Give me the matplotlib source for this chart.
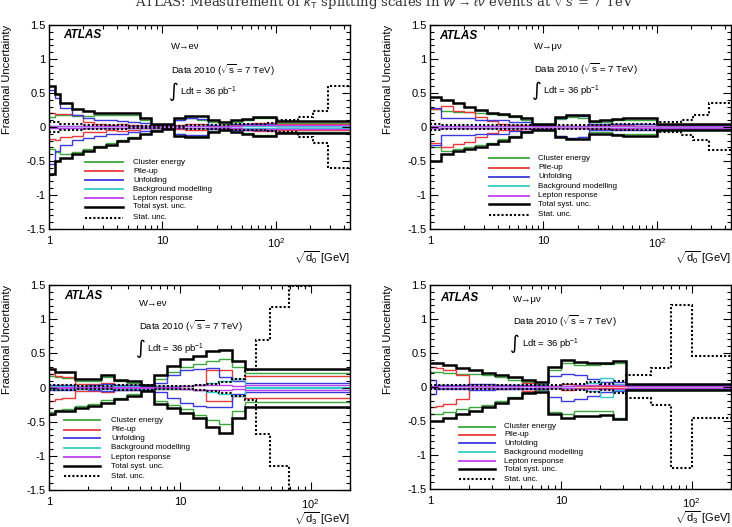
import numpy as np
import matplotlib
matplotlib.use("Agg")
import matplotlib.pyplot as plt
from matplotlib.ticker import FixedLocator, FixedFormatter, NullFormatter, LogLocator, MultipleLocator

plt.rcParams['font.family'] = ['Liberation Sans', 'DejaVu Sans']
plt.rcParams['mathtext.fontset'] = 'custom'
plt.rcParams['mathtext.rm'] = 'Liberation Sans'
plt.rcParams['mathtext.it'] = 'Liberation Sans:italic'
plt.rcParams['mathtext.bf'] = 'Liberation Sans:bold'

nan = np.nan

# ---------------- legend / components ----------------
comp_labels = ["Cluster energy", "Pile-up", "Unfolding", "Background modelling",
               "Lepton response", "Total syst. unc.", "Stat. unc."]
comp_colors = ["#3aa83a", "#e83a3a", "#3a3ae0", "#33cccc", "#c040f0"]

# ---------------- W->e nu, sqrt(d0) ----------------
tl_edges = [1, 1.12, 1.26, 1.58, 2.0, 2.51, 3.16, 3.98, 5.01, 6.31, 7.94, 10, 12.6, 15.8, 20.0,
            25.1, 31.6, 39.8, 50.1, 63.1, 79.4, 100, 158, 214, 288, 450]
tl_cluster_up = [0.15, 0.17, 0.17, 0.16, 0.16, 0.17, 0.17, 0.18, 0.18, 0.11, 0.02, 0.03, 0.10, 0.13, 0.11,
                 0.07, 0.05, 0.08, 0.10, 0.13, 0.13, 0.06, 0.06, 0.06, 0.06]
tl_cluster_dn = [-0.33, -0.37, -0.40, -0.37, -0.33, -0.28, -0.24, -0.19, -0.14, -0.10, -0.05, -0.02, -0.10, -0.13,
                 -0.13, -0.06, -0.04, -0.07, -0.09, -0.12, -0.12, -0.07, -0.07, -0.07, -0.07]
tl_pileup_up = [0.20, 0.19, 0.19, 0.17, 0.07, 0.05, 0.03, 0.05, 0.03, 0.02, 0.02, 0.02, 0.03, 0.04, 0.04,
                0.02, 0.02, 0.03, 0.05, 0.06, 0.06, 0.05, 0.05, 0.05, 0.05]
tl_pileup_dn = [-0.18, -0.19, -0.15, -0.13, -0.08, -0.07, -0.05, -0.06, -0.04, -0.02, -0.02, -0.02, -0.03, -0.04,
                -0.04, -0.02, -0.02, -0.03, -0.05, -0.06, -0.06, -0.05, -0.05, -0.05, -0.05]
tl_unfold_up = [0.55, 0.42, 0.28, 0.18, 0.13, 0.11, 0.10, 0.09, 0.08, 0.06, 0.02, 0.03, 0.10, 0.13, 0.12,
                0.03, 0.02, 0.04, 0.05, 0.05, 0.05, 0.02, 0.02, 0.02, 0.02]
tl_unfold_dn = [-0.54, -0.36, -0.26, -0.19, -0.16, -0.13, -0.11, -0.10, -0.08, -0.06, -0.02, -0.03, -0.11, -0.12,
                -0.12, -0.03, -0.02, -0.04, -0.05, -0.05, -0.05, -0.02, -0.02, -0.02, -0.02]
tl_bkg_up = [0.01, 0.01, 0.01, 0.01, 0.01, 0.01, 0.01, 0.01, 0.01, 0.01, 0.01, 0.01, 0.01, 0.01, 0.01,
             0.01, 0.01, 0.01, 0.01, 0.01, 0.01, 0.02, 0.02, 0.02, 0.02]
tl_bkg_dn = [-0.01, -0.01, -0.01, -0.01, -0.01, -0.01, -0.01, -0.01, -0.01, -0.01, -0.01, -0.01, -0.01, -0.01,
             -0.01, -0.01, -0.01, -0.01, -0.01, -0.01, -0.01, -0.02, -0.02, -0.02, -0.02]
tl_lepton_up = [0.01, 0.01, 0.01, 0.01, 0.01, 0.01, 0.01, 0.01, 0.01, 0.01, 0.01, 0.01, 0.01, 0.01, 0.01,
                0.01, 0.01, 0.02, 0.03, 0.03, 0.03, 0.03, 0.03, 0.03, 0.03]
tl_lepton_dn = [-0.01, -0.01, -0.01, -0.01, -0.01, -0.01, -0.01, -0.01, -0.01, -0.01, -0.01, -0.01, -0.01, -0.01,
                -0.01, -0.01, -0.01, -0.02, -0.03, -0.03, -0.03, -0.03, -0.03, -0.03, -0.03]
tl_total_up = [0.60, 0.48, 0.35, 0.27, 0.23, 0.20, 0.20, 0.21, 0.20, 0.13, 0.04, 0.04, 0.13, 0.16, 0.16,
               0.10, 0.07, 0.10, 0.12, 0.15, 0.15, 0.09, 0.09, 0.09, 0.09]
tl_total_dn = [-0.69, -0.50, -0.45, -0.39, -0.35, -0.30, -0.26, -0.21, -0.16, -0.11, -0.06, -0.03, -0.13, -0.15,
               -0.15, -0.08, -0.05, -0.08, -0.10, -0.13, -0.13, -0.09, -0.09, -0.09, -0.09]
tl_stat_up = [0.07, 0.07, 0.05, 0.04, 0.03, 0.03, 0.03, 0.03, 0.02, 0.02, 0.02, 0.02, 0.02, 0.03, 0.03,
              0.03, 0.03, 0.04, 0.04, 0.05, 0.06, 0.10, 0.14, 0.23, 0.60]
tl_stat_dn = [-0.07, -0.07, -0.05, -0.04, -0.03, -0.03, -0.03, -0.03, -0.02, -0.02, -0.02, -0.02, -0.02, -0.03,
              -0.03, -0.03, -0.03, -0.04, -0.04, -0.05, -0.06, -0.07, -0.14, -0.23, -0.60]

# ---------------- W->mu nu, sqrt(d0) ----------------
tr_edges = [1, 1.26, 1.58, 2.0, 2.51, 3.16, 3.98, 5.01, 6.31, 7.94, 10, 12.6, 15.8, 20.0, 25.1, 31.6,
            39.8, 50.1, 63.1, 79.4, 100, 162, 210, 288, 450]
tr_cluster_up = [0.27, 0.23, 0.22, 0.22, 0.21, 0.19, 0.17, 0.14, 0.11, 0.04, 0.04, 0.12, 0.14, 0.13, 0.07,
                 0.08, 0.10, 0.11, 0.11, 0.11, 0.03, 0.03, 0.03, 0.03]
tr_cluster_dn = [-0.30, -0.35, -0.33, -0.30, -0.26, -0.23, -0.18, -0.13, -0.07, -0.03, -0.04, -0.13, -0.16, -0.15,
                 -0.08, -0.08, -0.10, -0.11, -0.11, -0.11, -0.03, -0.03, -0.03, -0.03]
tr_pileup_up = [0.27, 0.31, 0.24, 0.22, 0.15, 0.09, 0.04, 0.03, 0.03, 0.02, 0.02, 0.02, 0.02, 0.02, 0.03,
                0.03, 0.03, 0.03, 0.02, 0.02, 0.01, 0.01, 0.01, 0.01]
tr_pileup_dn = [-0.24, -0.29, -0.25, -0.22, -0.15, -0.09, -0.05, -0.04, -0.03, -0.02, -0.02, -0.02, -0.02, -0.02,
                -0.03, -0.03, -0.03, -0.03, -0.02, -0.02, -0.01, -0.01, -0.01, -0.01]
tr_unfold_up = [0.28, 0.13, 0.13, 0.13, 0.10, 0.10, 0.10, 0.07, 0.07, 0.03, 0.03, 0.13, 0.17, 0.16, 0.05,
                0.05, 0.04, 0.04, 0.04, 0.04, 0.02, 0.02, 0.02, 0.02]
tr_unfold_dn = [-0.26, -0.12, -0.12, -0.12, -0.11, -0.11, -0.11, -0.06, -0.06, -0.03, -0.03, -0.13, -0.16, -0.15,
                -0.05, -0.05, -0.04, -0.04, -0.04, -0.04, -0.02, -0.02, -0.02, -0.02]
tr_bkg_up = [0.01, 0.01, 0.01, 0.01, 0.01, 0.01, 0.01, 0.01, 0.01, 0.01, 0.01, 0.01, 0.01, 0.01, 0.01,
             0.01, 0.01, 0.01, 0.01, 0.01, 0.01, 0.01, 0.01, 0.01]
tr_bkg_dn = [-0.01, -0.01, -0.01, -0.01, -0.01, -0.01, -0.01, -0.01, -0.01, -0.01, -0.01, -0.01, -0.01, -0.01,
             -0.01, -0.01, -0.01, -0.01, -0.01, -0.01, -0.01, -0.01, -0.01, -0.01]
tr_lepton_up = [0.01, 0.01, 0.01, 0.01, 0.01, 0.01, 0.01, 0.01, 0.01, 0.01, 0.01, 0.01, 0.01, 0.01, 0.02,
                0.02, 0.02, 0.02, 0.02, 0.02, 0.01, 0.01, 0.01, 0.01]
tr_lepton_dn = [-0.01, -0.01, -0.01, -0.01, -0.01, -0.01, -0.01, -0.01, -0.01, -0.01, -0.01, -0.01, -0.01, -0.01,
                -0.02, -0.02, -0.02, -0.02, -0.02, -0.02, -0.01, -0.01, -0.01, -0.01]
tr_total_up = [0.44, 0.40, 0.35, 0.30, 0.25, 0.21, 0.19, 0.16, 0.13, 0.05, 0.05, 0.15, 0.18, 0.17, 0.09,
               0.10, 0.12, 0.13, 0.13, 0.13, 0.04, 0.04, 0.04, 0.04]
tr_total_dn = [-0.50, -0.40, -0.36, -0.33, -0.29, -0.25, -0.20, -0.15, -0.08, -0.04, -0.05, -0.15, -0.18, -0.17,
               -0.10, -0.10, -0.12, -0.13, -0.13, -0.13, -0.04, -0.04, -0.04, -0.04]
tr_stat_up = [0.04, 0.03, 0.03, 0.03, 0.03, 0.03, 0.03, 0.03, 0.03, 0.03, 0.03, 0.03, 0.03, 0.03, 0.03,
              0.03, 0.04, 0.04, 0.05, 0.05, 0.07, 0.11, 0.18, 0.36]
tr_stat_dn = [-0.04, -0.03, -0.03, -0.03, -0.03, -0.03, -0.03, -0.03, -0.03, -0.03, -0.03, -0.03, -0.03, -0.03,
              -0.03, -0.03, -0.04, -0.04, -0.05, -0.05, -0.08, -0.12, -0.19, -0.34]

# ---------------- W->e nu, sqrt(d3) ----------------
bl_edges = [1, 1.12, 1.26, 1.58, 2.0, 2.51, 3.16, 3.98, 5.01, 6.31, 7.94, 10, 12.6, 15.8, 20.0, 25.1,
            31.6, 38.0, 49.0, 68.4, 100, 200]
bl_cluster_up = [0.17, 0.15, 0.14, 0.10, 0.09, 0.15, 0.09, 0.07, 0.03, 0.13, 0.22, 0.30, 0.35, 0.39, 0.41,
                 0.30, 0.21, 0.21, 0.21, 0.21, 0.21]
bl_cluster_dn = [-0.36, -0.33, -0.31, -0.27, -0.24, -0.19, -0.15, -0.10, -0.04, -0.20, -0.26, -0.32, -0.40, -0.48,
                 -0.54, -0.35, -0.21, -0.21, -0.21, -0.21, -0.21]
bl_pileup_up = [0.20, 0.17, 0.16, 0.05, 0.05, 0.07, 0.03, 0.03, 0.02, 0.02, 0.02, 0.02, 0.03, 0.25, 0.25,
                0.12, 0.17, 0.17, 0.17, 0.17, 0.17]
bl_pileup_dn = [-0.20, -0.17, -0.15, -0.05, -0.05, -0.07, -0.03, -0.03, -0.02, -0.02, -0.02, -0.02, -0.03, -0.20,
                -0.20, -0.12, -0.16, -0.16, -0.16, -0.16, -0.16]
bl_unfold_up = [0.04, 0.04, 0.04, 0.02, 0.03, 0.05, 0.03, 0.04, 0.04, 0.06, 0.18, 0.25, 0.27, 0.28, 0.15,
                0.10, 0.06, 0.06, 0.06, 0.06, 0.06]
bl_unfold_dn = [-0.04, -0.04, -0.04, -0.02, -0.03, -0.05, -0.03, -0.04, -0.04, -0.06, -0.16, -0.22, -0.27, -0.28,
                -0.28, -0.10, -0.07, -0.07, -0.07, -0.07, -0.07]
bl_bkg_up = [0.02, 0.02, 0.02, 0.02, 0.02, 0.02, 0.02, 0.02, 0.02, 0.02, 0.02, 0.02, 0.03, 0.06, 0.10,
             0.12, 0.01, 0.01, 0.01, 0.01, 0.01]
bl_bkg_dn = [-0.02, -0.02, -0.02, -0.02, -0.02, -0.02, -0.02, -0.02, -0.02, -0.02, -0.02, -0.02, -0.03, -0.06,
             -0.10, -0.12, -0.01, -0.01, -0.01, -0.01, -0.01]
bl_lepton_up = [0.01, 0.01, 0.01, 0.01, 0.01, 0.01, 0.01, 0.01, 0.01, 0.01, 0.01, 0.02, 0.03, 0.03, 0.03,
                0.02, 0.035, 0.035, 0.035, 0.035, 0.035]
bl_lepton_dn = [-0.01, -0.01, -0.01, -0.01, -0.01, -0.01, -0.01, -0.01, -0.01, -0.01, -0.01, -0.02, -0.03, -0.03,
                -0.03, -0.02, -0.035, -0.035, -0.035, -0.035, -0.035]
bl_total_up = [0.27, 0.23, 0.23, 0.13, 0.13, 0.18, 0.11, 0.09, 0.04, 0.19, 0.31, 0.41, 0.46, 0.53, 0.55,
               0.39, 0.27, 0.27, 0.27, 0.27, 0.27]
bl_total_dn = [-0.39, -0.35, -0.34, -0.30, -0.27, -0.22, -0.17, -0.12, -0.05, -0.24, -0.30, -0.37, -0.45, -0.58,
               -0.66, -0.44, -0.28, -0.28, -0.28, -0.28, -0.28]
bl_stat_up = [0.03, 0.03, 0.03, 0.02, 0.02, 0.02, 0.03, 0.03, 0.03, 0.02, 0.02, 0.02, 0.03, 0.05, 0.08,
              0.12, 0.25, 0.70, 1.18, 1.49, nan]
bl_stat_dn = [-0.03, -0.03, -0.03, -0.02, -0.02, -0.02, -0.03, -0.03, -0.03, -0.02, -0.02, -0.02, -0.03, -0.05,
              -0.08, -0.12, -0.18, -0.68, -1.15, -1.60, nan]

# ---------------- W->mu nu, sqrt(d3) ----------------
br_edges = [1, 1.12, 1.26, 1.58, 2.0, 2.51, 3.16, 3.98, 5.01, 6.31, 7.94, 10, 12.6, 15.8, 20.0, 25.1,
            31.6, 49.0, 70.0, 100, 200]
br_cluster_up = [0.22, 0.22, 0.20, 0.19, 0.19, 0.17, 0.15, 0.11, 0.07, 0.04, 0.25, 0.36, 0.33, 0.33, 0.34,
                 0.35, 0.03, 0.03, 0.03, 0.03]
br_cluster_dn = [-0.40, -0.40, -0.37, -0.33, -0.30, -0.26, -0.21, -0.14, -0.08, -0.05, -0.37, -0.40, -0.36, -0.36,
                 -0.35, -0.45, -0.03, -0.03, -0.03, -0.03]
br_pileup_up = [0.30, 0.28, 0.25, 0.18, 0.02, 0.02, 0.03, 0.02, 0.06, 0.02, 0.02, 0.05, 0.02, 0.02, 0.02,
                0.02, 0.01, 0.01, 0.01, 0.01]
br_pileup_dn = [-0.30, -0.28, -0.25, -0.18, -0.02, -0.02, -0.03, -0.02, -0.06, -0.02, -0.02, -0.05, -0.02, -0.02,
                -0.02, -0.02, -0.01, -0.01, -0.01, -0.01]
br_unfold_up = [0.11, 0.03, 0.03, 0.03, 0.05, 0.05, 0.03, 0.03, 0.03, 0.03, 0.16, 0.19, 0.17, 0.12, 0.08,
                0.07, 0.03, 0.03, 0.03, 0.03]
br_unfold_dn = [-0.11, -0.03, -0.03, -0.03, -0.05, -0.05, -0.03, -0.03, -0.03, -0.03, -0.15, -0.20, -0.17, -0.13,
                -0.08, -0.06, -0.03, -0.03, -0.03, -0.03]
br_bkg_up = [0.01, 0.01, 0.01, 0.01, 0.01, 0.01, 0.01, 0.01, 0.01, 0.01, 0.01, 0.02, 0.03, 0.06, 0.13,
             0.05, 0.01, 0.01, 0.01, 0.01]
br_bkg_dn = [-0.01, -0.01, -0.01, -0.01, -0.01, -0.01, -0.01, -0.01, -0.01, -0.01, -0.01, -0.02, -0.03, -0.06,
             -0.14, -0.05, -0.01, -0.01, -0.01, -0.01]
br_lepton_up = [0.01, 0.01, 0.01, 0.01, 0.01, 0.01, 0.01, 0.01, 0.01, 0.01, 0.01, 0.02, 0.03, 0.03, 0.03,
                0.03, 0.02, 0.02, 0.02, 0.02]
br_lepton_dn = [-0.01, -0.01, -0.01, -0.01, -0.01, -0.01, -0.01, -0.01, -0.01, -0.01, -0.01, -0.02, -0.03, -0.03,
                -0.03, -0.03, -0.02, -0.02, -0.02, -0.02]
br_total_up = [0.35, 0.35, 0.33, 0.28, 0.25, 0.21, 0.18, 0.14, 0.10, 0.07, 0.30, 0.40, 0.37, 0.35, 0.35,
               0.38, 0.04, 0.04, 0.04, 0.04]
br_total_dn = [-0.50, -0.50, -0.45, -0.40, -0.35, -0.30, -0.24, -0.16, -0.09, -0.07, -0.39, -0.45, -0.43, -0.42,
               -0.41, -0.47, -0.04, -0.04, -0.04, -0.04]
br_stat_up = [0.03, 0.03, 0.03, 0.03, 0.03, 0.03, 0.03, 0.03, 0.03, 0.03, 0.03, 0.04, 0.05, 0.07, 0.05,
              0.09, 0.18, 0.28, 1.20, 0.46]
br_stat_dn = [-0.03, -0.03, -0.03, -0.03, -0.03, -0.03, -0.03, -0.03, -0.03, -0.03, -0.03, -0.04, -0.05, -0.07,
              -0.05, -0.09, -0.16, -0.27, -1.19, -0.46]

ytick_vals = [-1.5, -1.0, -0.5, 0.0, 0.5, 1.0, 1.5]
ytick_labels = ["-1.5", "-1", "-0.5", "0", "0.5", "1", "1.5"]
xtick_vals = [1, 10, 100]
xtick_labels = ["1", "10", r"$\mathregular{10^{2}}$"]

panels = [
    dict(rect=[49 / 732, 1 - 229 / 527, 301 / 732, 204 / 527], xmax=450, edges=tl_edges,
         comps=[(tl_cluster_up, tl_cluster_dn), (tl_pileup_up, tl_pileup_dn), (tl_unfold_up, tl_unfold_dn),
                (tl_bkg_up, tl_bkg_dn), (tl_lepton_up, tl_lepton_dn)],
         total=(tl_total_up, tl_total_dn), stat=(tl_stat_up, tl_stat_dn),
         chan="W→eν", xlabel=r"$\sqrt{\mathregular{d_0}}$ [GeV]",
         atlas=(0.047, 0.951), chanpos=(0.405, 0.897), datapos=(0.405, 0.779), intpos=(0.398, 0.676),
         ldtpos=(0.435, 0.672), leg=(0.12, 0.246, 0.279, [0.328, 0.284, 0.240, 0.196, 0.150, 0.108, 0.054])),
    dict(rect=[430 / 732, 1 - 229 / 527, 301 / 732, 204 / 527], xmax=450, edges=tr_edges,
         comps=[(tr_cluster_up, tr_cluster_dn), (tr_pileup_up, tr_pileup_dn), (tr_unfold_up, tr_unfold_dn),
                (tr_bkg_up, tr_bkg_dn), (tr_lepton_up, tr_lepton_dn)],
         total=(tr_total_up, tr_total_dn), stat=(tr_stat_up, tr_stat_dn),
         chan="W→μν", xlabel=r"$\sqrt{\mathregular{d_0}}$ [GeV]",
         atlas=(0.03, 0.946), chanpos=(0.346, 0.894), datapos=(0.346, 0.783), intpos=(0.340, 0.678),
         ldtpos=(0.377, 0.675), leg=(0.196, 0.329, 0.36, [0.346, 0.300, 0.255, 0.209, 0.163, 0.121, 0.069])),
    dict(rect=[49 / 732, 1 - 490 / 527, 301 / 732, 205 / 527], xmax=200, edges=bl_edges,
         comps=[(bl_cluster_up, bl_cluster_dn), (bl_pileup_up, bl_pileup_dn), (bl_unfold_up, bl_unfold_dn),
                (bl_bkg_up, bl_bkg_dn), (bl_lepton_up, bl_lepton_dn)],
         total=(bl_total_up, bl_total_dn), stat=(bl_stat_up, bl_stat_dn),
         chan="W→eν", xlabel=r"$\sqrt{\mathregular{d_3}}$ [GeV]",
         atlas=(0.05, 0.948), chanpos=(0.30, 0.91), datapos=(0.30, 0.797), intpos=(0.289, 0.688),
         ldtpos=(0.327, 0.685), leg=(0.05, 0.17, 0.206, [0.341, 0.294, 0.252, 0.205, 0.160, 0.116, 0.067])),
    dict(rect=[430 / 732, 1 - 489 / 527, 301 / 732, 204 / 527], xmax=200, edges=br_edges,
         comps=[(br_cluster_up, br_cluster_dn), (br_pileup_up, br_pileup_dn), (br_unfold_up, br_unfold_dn),
                (br_bkg_up, br_bkg_dn), (br_lepton_up, br_lepton_dn)],
         total=(br_total_up, br_total_dn), stat=(br_stat_up, br_stat_dn),
         chan="W→μν", xlabel=r"$\sqrt{\mathregular{d_3}}$ [GeV]",
         atlas=(0.033, 0.935), chanpos=(0.277, 0.93), datapos=(0.277, 0.822), intpos=(0.266, 0.711),
         ldtpos=(0.304, 0.708), leg=(0.097, 0.216, 0.247, [0.305, 0.265, 0.224, 0.180, 0.136, 0.098, 0.049])),
]

LW_C = 1.0
LW_T = 1.8
LW_S = 1.5
STAT_LS = (0, (1.0, 1.0))

fig = plt.figure(figsize=(7.32, 5.27), dpi=100)
fig.patch.set_facecolor("white")

fig.text(0.525, 1 - 7.5 / 527,
         r"ATLAS: Measurement of $k_\mathrm{T}$ splitting scales in $W \rightarrow \ell\nu$ events at $\sqrt{s}$ = 7 TeV",
         family="DejaVu Serif", fontsize=9.5, ha="center", va="baseline", color="#333333")


def draw_steps(ax, edges, vals, **kw):
    vals = np.asarray(vals, dtype=float)
    edges = np.asarray(edges, dtype=float)
    k = int(np.isfinite(vals).sum())
    ax.stairs(vals[:k], edges[:k + 1], baseline=None, **kw)


for p in panels:
    ax = fig.add_axes(p["rect"])
    edges = p["edges"]
    for (up, dn), col in zip(p["comps"], comp_colors):
        draw_steps(ax, edges, up, color=col, lw=LW_C)
        draw_steps(ax, edges, dn, color=col, lw=LW_C)
    draw_steps(ax, edges, p["total"][0], color="black", lw=LW_T)
    draw_steps(ax, edges, p["total"][1], color="black", lw=LW_T)
    draw_steps(ax, edges, p["stat"][0], color="black", lw=LW_S, linestyle=STAT_LS)
    draw_steps(ax, edges, p["stat"][1], color="black", lw=LW_S, linestyle=STAT_LS)

    ax.set_xscale("log")
    ax.set_xlim(1, p["xmax"])
    ax.set_ylim(-1.5, 1.5)
    ax.xaxis.set_major_locator(FixedLocator(xtick_vals))
    ax.xaxis.set_major_formatter(FixedFormatter(xtick_labels))
    ax.xaxis.set_minor_locator(LogLocator(base=10, subs=(2, 3, 4, 5, 6, 7, 8, 9), numticks=20))
    ax.xaxis.set_minor_formatter(NullFormatter())
    ax.yaxis.set_major_locator(FixedLocator(ytick_vals))
    ax.yaxis.set_major_formatter(FixedFormatter(ytick_labels))
    ax.yaxis.set_minor_locator(MultipleLocator(0.1))
    ax.tick_params(which="both", direction="in", top=True, right=True, width=0.8)
    ax.tick_params(which="major", length=5.5)
    ax.tick_params(which="minor", length=2.8)
    ax.tick_params(axis="x", which="major", pad=5, labelsize=8)
    ax.tick_params(axis="y", which="major", pad=2.5, labelsize=8)
    for s in ax.spines.values():
        s.set_linewidth(1.0)

    ax.set_ylabel("Fractional Uncertainty", fontsize=8, loc="top")
    ax.yaxis.set_label_coords(-0.122, 1.0)
    ax.set_xlabel(p["xlabel"], fontsize=8, loc="right")
    ax.xaxis.set_label_coords(1.0, -0.10)

    ax.text(*p["atlas"], "ATLAS", transform=ax.transAxes, fontsize=8.5, fontweight="bold",
            fontstyle="italic", ha="left", va="center")
    ax.text(*p["chanpos"], p["chan"], transform=ax.transAxes, fontsize=6.8, ha="left", va="center")
    ax.text(*p["datapos"], r"Data 2010 ($\sqrt{\mathregular{s}}$ = 7 TeV)", transform=ax.transAxes,
            fontsize=6.8, ha="left", va="center")
    ax.text(*p["intpos"], "∫", transform=ax.transAxes, fontsize=13.5, family="DejaVu Sans",
            ha="left", va="center")
    ax.text(*p["ldtpos"], r"Ldt = 36 pb$^{\mathregular{-1}}$", transform=ax.transAxes,
            fontsize=6.8, ha="left", va="center")

    x0, x1, xt, rows = p["leg"]
    styles = [dict(color=c, lw=LW_C + 0.3) for c in comp_colors] + \
             [dict(color="black", lw=LW_T), dict(color="black", lw=LW_S, linestyle=STAT_LS)]
    for lab, st, yy in zip(comp_labels, styles, rows):
        ax.plot([x0, x1], [yy, yy], transform=ax.transAxes, clip_on=False, **st)
        ax.text(xt, yy, lab, transform=ax.transAxes, fontsize=5.8, ha="left", va="center")

fig.savefig("out.png", dpi=100, facecolor="white")
